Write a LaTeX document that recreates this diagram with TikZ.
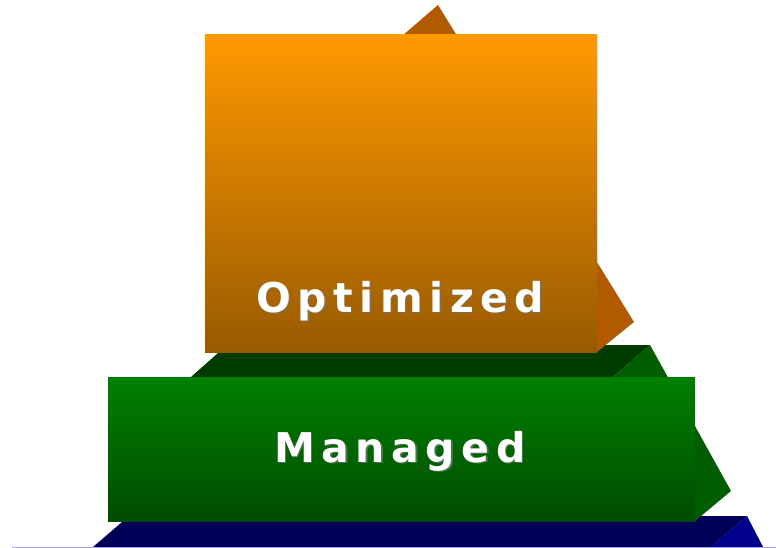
\documentclass[tikz,border=0pt]{standalone}
\usepackage{fontspec}
\newfontfamily\lblfont[LetterSpace=16]{DejaVu Sans}
\definecolor{orTop}{RGB}{255,153,0}
\definecolor{orBot}{RGB}{152,90,0}
\definecolor{orSide}{RGB}{178,90,0}
\definecolor{grTop}{RGB}{0,128,0}
\definecolor{grBot}{RGB}{0,76,0}
\definecolor{grLid}{RGB}{0,60,0}
\definecolor{grSide}{RGB}{0,94,0}
\definecolor{blLid}{RGB}{0,0,88}
\definecolor{blSide}{RGB}{0,0,140}
\definecolor{blEdge}{RGB}{165,165,232}
\tikzset{
  lbl/.style={inner sep=0pt, anchor=base west, text=white,
    font=\lblfont\bfseries\fontsize{41}{41}\selectfont},
  lblshadow/.style={lbl, text=black!55, opacity=0.75},
}
\begin{document}
\begin{tikzpicture}[x=1pt,y=-1pt]
\useasboundingbox (0,0) rectangle (776,548);
\clip (0,0) rectangle (776,548);
\fill[white] (0,0) rectangle (776,548);
% blue layer
\fill[blLid] (93,547) -- (129,516) -- (747,516) -- (711,547) -- cycle;
\fill[blSide] (711,547) -- (747,516) -- (775,570) -- (735,590) -- cycle;
\draw[blEdge, line width=1pt] (12,547.6) -- (776,547.6);
% green layer
\fill[grLid] (191,377) -- (227,345) -- (650,345) -- (613,377) -- cycle;
\fill[grSide] (613,377) -- (650,345) -- (731,491) -- (695,521) -- cycle;
\shade[top color=grTop, bottom color=grBot] (108,377) rectangle (695,521);
% orange layer
\fill[orSide] (402,36) -- (438,5) -- (634,322) -- (597,352) -- (597,36) -- cycle;
\shade[top color=orTop, bottom color=orBot] (205,35) rectangle (597,352);
% labels
\node[lblshadow] (optS) at (257.5,313.5) {Optimized};
\node[lbl] (opt) at (256,312) {Optimized};
\node[lblshadow] (manS) at (275.5,463.5) {Managed};
\node[lbl] (man) at (274,462) {Managed};
\end{tikzpicture}
\end{document}
